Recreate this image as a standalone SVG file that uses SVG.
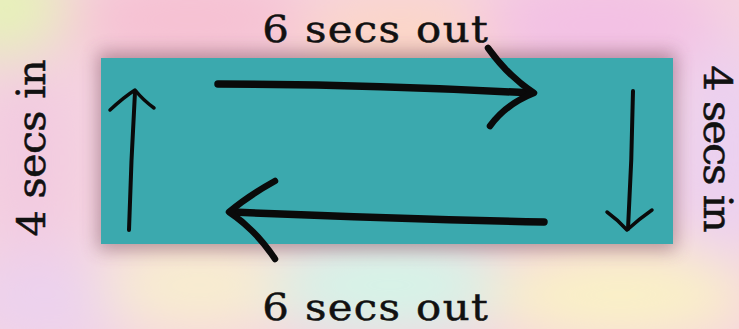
<svg xmlns="http://www.w3.org/2000/svg" width="739" height="329" viewBox="0 0 739 329">
  <defs>
    <filter id="bgblur" x="-20%" y="-20%" width="140%" height="140%">
      <feGaussianBlur stdDeviation="28"/>
    </filter>
    <filter id="shadow" x="-10%" y="-30%" width="120%" height="160%">
      <feGaussianBlur stdDeviation="9"/>
    </filter>
    <style>
      .lbl { font-family: "DejaVu Serif", "Liberation Serif", serif; fill: #111; stroke: #111; stroke-width: 0.5; }
      .top { font-size: 38px; }
      .side { font-size: 39px; }
      .ink { fill: none; stroke: #0a0a0a; stroke-linecap: round; stroke-linejoin: round; }
      .thick { stroke-width: 7.5; }
      .thin { stroke-width: 4; }
      .barb { stroke-width: 6.5; }
      .tbarb { stroke-width: 3.5; }
    </style>
  </defs>

  <g id="background">
    <rect x="0" y="0" width="739" height="329" fill="#f5d4e0"/>
    <g filter="url(#bgblur)">
      <ellipse cx="5" cy="5" rx="60" ry="55" fill="#e6f2b8"/>
      <ellipse cx="190" cy="20" rx="120" ry="45" fill="#f6c0d2"/>
      <ellipse cx="400" cy="40" rx="100" ry="45" fill="#fcd6c6"/>
      <ellipse cx="600" cy="25" rx="120" ry="50" fill="#f3c0e4"/>
      <ellipse cx="725" cy="150" rx="45" ry="110" fill="#ead0f2"/>
      <ellipse cx="30" cy="160" rx="45" ry="110" fill="#f2cae0"/>
      <ellipse cx="50" cy="300" rx="90" ry="50" fill="#ecd2ee"/>
      <ellipse cx="200" cy="285" rx="100" ry="45" fill="#f8eecf"/>
      <ellipse cx="390" cy="285" rx="120" ry="45" fill="#d4f5e8"/>
      <ellipse cx="620" cy="295" rx="130" ry="45" fill="#faf2c6"/>
    </g>
  </g>

  <g id="box">
    <rect x="98" y="52" width="578" height="198" fill="#6a3a4c" opacity="0.45" filter="url(#shadow)"/>
    <rect x="101" y="58" width="572" height="186" fill="#3ba9ae"/>
  </g>

  <g id="labels">
    <text class="lbl top" transform="translate(375,42) scale(1.1,1)" text-anchor="middle" textLength="205" lengthAdjust="spacing">6 secs out</text>
    <text class="lbl top" transform="translate(375,320) scale(1.1,1)" text-anchor="middle" textLength="205" lengthAdjust="spacing">6 secs out</text>
    <text class="lbl side" transform="translate(45,148) rotate(-90) scale(1.06,1)" text-anchor="middle" textLength="167" lengthAdjust="spacing">4 secs in</text>
    <text class="lbl side" transform="translate(704,149) rotate(90) scale(1.06,1)" text-anchor="middle" textLength="158" lengthAdjust="spacing">4 secs in</text>
  </g>

  <g id="connectors">
    <g id="arrow-top">
      <path class="ink thick" d="M218,84 Q370,84 530,93"/>
      <path class="ink barb" d="M488,48 Q508,76 534,93 Q506,104 490,126"/>
    </g>
    <g id="arrow-right">
      <path class="ink thin" d="M633,91 Q632,160 628,229"/>
      <path class="ink tbarb" d="M607,212 Q618,220 627,230 Q639,219 652,210"/>
    </g>
    <g id="arrow-bottom">
      <path class="ink thick" d="M544,222 Q400,219 232,212"/>
      <path class="ink barb" d="M275,181 Q248,196 229,212 Q256,230 275,259"/>
    </g>
    <g id="arrow-left">
      <path class="ink thin" d="M129,230 Q131,160 135,92"/>
      <path class="ink tbarb" d="M110,110 Q124,97 135,90 Q143,100 154,108"/>
    </g>
  </g>
</svg>
